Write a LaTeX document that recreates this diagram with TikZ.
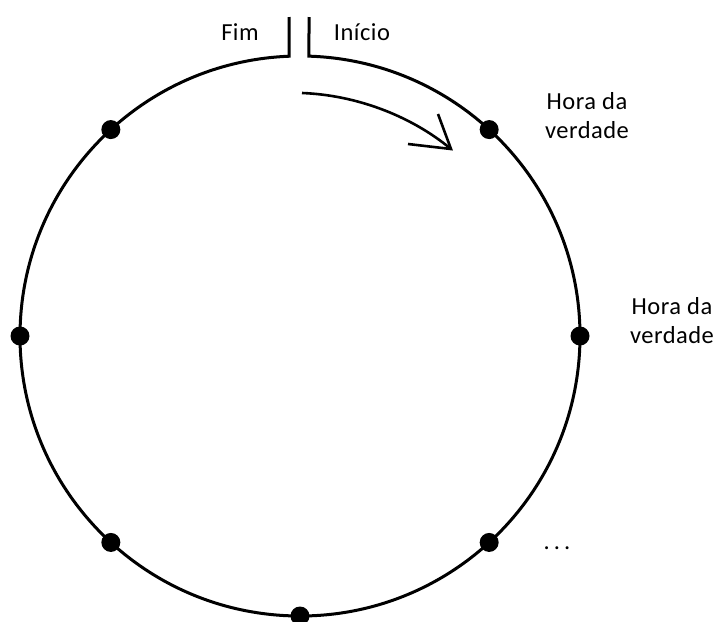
\documentclass[tikz,border=0pt]{standalone}
\usepackage{fontspec}
\setmainfont[LetterSpace=2]{Carlito}
\usetikzlibrary{calc}
\begin{document}
\begin{tikzpicture}[x=1pt,y=1pt,
  ring/.style={line width=3pt,line join=miter},
  spot/.style={circle,fill=black,inner sep=0pt,minimum size=19pt},
  lbl/.style={font=\fontsize{24.5}{29}\selectfont,align=center,inner sep=0pt},
  flow/.style={line width=2.6pt}]
\useasboundingbox (0,0) rectangle (717,-621);
\coordinate (c) at (300,-336);
% ring with gap at top
\draw[ring] (309,-17) -- ($(c)+(88.16:280)$) arc[start angle=88.16,end angle=-267.75,radius=280] -- (289,-17);
% dots
\foreach \a/\n in {47.5/d1,0/d2,-47.5/d3,-90/d4,-132.5/d5,180/d6,132.5/d7}
  \node[spot] (\n) at ($(c)+(\a:280)$) {};
% arrow
\coordinate (as) at (302,-93);
\coordinate (at) at (451,-149);
\coordinate (h1) at (438,-114);
\coordinate (h2) at (408,-144);
\draw[flow] (as) .. controls (355,-95) and (410,-115) .. (at);
\draw[flow,line join=miter] (h1) -- (at) -- (h2);
% labels
\node[lbl] (fim) at (240,-32) {Fim};
\node[lbl] (ini) at (362,-32) {Início};
\node[lbl] (hv1) at (587,-116) {Hora da\\verdade};
\node[lbl] (hv2) at (672,-321) {Hora da\\verdade};
\node[lbl] (dots) at (557,-548) {.\,.\,.};
\end{tikzpicture}
\end{document}
